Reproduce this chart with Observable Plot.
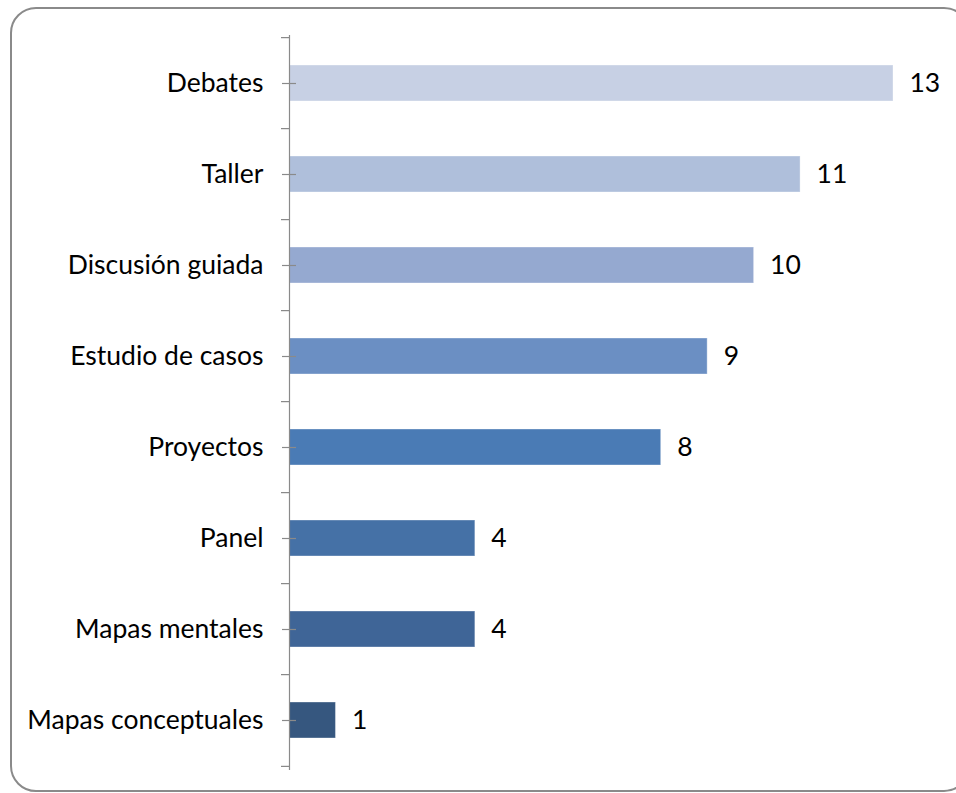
<!DOCTYPE html>
<html>
<head>
<meta charset="utf-8">
<script src="https://cdn.jsdelivr.net/npm/d3@7"></script>
<script src="https://cdn.jsdelivr.net/npm/@observablehq/plot@0.6"></script>
<style>
  html, body { margin: 0; padding: 0; background: #fff; }
  #wrap { position: relative; width: 956px; height: 793px; overflow: hidden; }
  #frame { position: absolute; left: 10px; top: 7px; width: 960px; height: 785px;
           border: 2px solid #8a8a8a; border-radius: 26px; box-sizing: border-box; }
  #chart { position: absolute; left: 0; top: 0; }
</style>
</head>
<body>
<div id="wrap"><div id="frame"></div><div id="chart"></div></div>
<script>
const categories = ["Debates", "Taller", "Discusión guiada", "Estudio de casos", "Proyectos", "Panel", "Mapas mentales", "Mapas conceptuales"];
const values = [13, 11, 10, 9, 8, 4, 4, 1];
const barColors = ["#c7d0e4", "#afbfdb", "#95a9d0", "#6b8fc3", "#4a7bb5", "#4571a6", "#3f6597", "#36577f"];

const data = categories.map((c, i) => ({cat: c, value: values[i], color: barColors[i]}));
const FONT = "Lato, 'Open Sans', sans-serif";
const FS = 26.5;
const step = (793 - 35 - 24) / categories.length;

const chart = Plot.plot({
  width: 956,
  height: 793,
  marginLeft: 289,
  marginRight: 63,
  marginTop: 35,
  marginBottom: 24,
  style: {fontFamily: FONT, color: "#000", background: "transparent"},
  x: {domain: [0, 13], axis: null},
  y: {domain: categories, paddingInner: 0.6, paddingOuter: 0.3, axis: null, label: null},
  marks: [
    Plot.barX(data, {x: "value", y: "cat", fill: "color", stroke: "#ffffff", strokeOpacity: 0.35, strokeWidth: 1}),
    Plot.frame({anchor: "left", stroke: "#8a8a8a", strokeWidth: 1.2}),
    Plot.ruleY(categories, {y: d => d, x1: 0, x2: 0, insetLeft: -8, dy: -step / 2, stroke: "#8a8a8a", strokeWidth: 1.2}),
    Plot.ruleY([categories[categories.length - 1]], {y: d => d, x1: 0, x2: 0, insetLeft: -8, dy: step / 2, stroke: "#8a8a8a", strokeWidth: 1.2}),
    Plot.axisY({tickSize: 14, dx: 7, text: null, label: null, stroke: "#8a8a8a", strokeWidth: 1.2}),
    Plot.axisY({tickSize: 0, tickPadding: 26, label: null, fontSize: FS, fill: "#000"}),
    Plot.text(data, {x: "value", y: "cat", text: d => String(d.value), dx: 16, textAnchor: "start", fontSize: FS, fill: "#000"})
  ]
});
document.getElementById("chart").appendChild(chart);
</script>
</body>
</html>
